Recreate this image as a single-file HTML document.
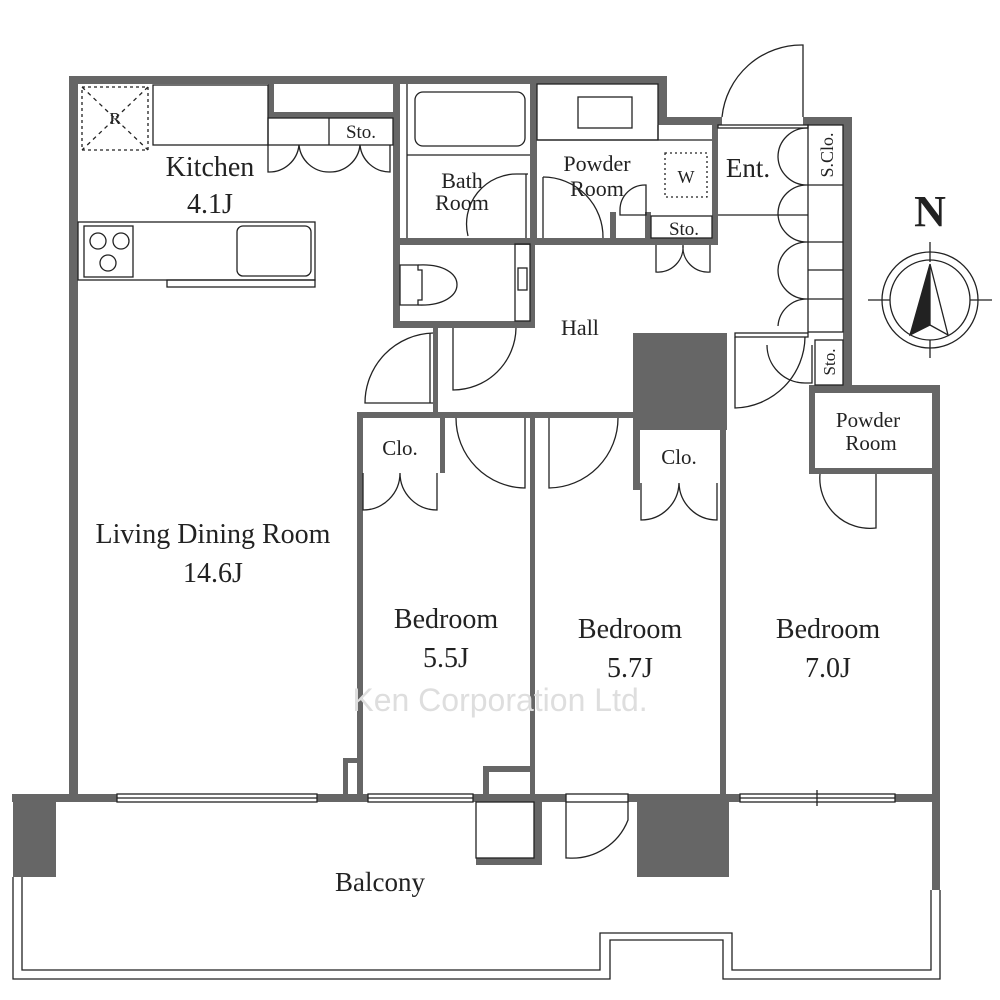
<!DOCTYPE html>
<html><head><meta charset="utf-8"><style>
html,body{margin:0;padding:0;background:#fff;}
svg{display:block;}
text{font-family:"Liberation Serif",serif;fill:#222;}
</style></head><body>
<svg width="1000" height="1000" viewBox="0 0 1000 1000" xmlns="http://www.w3.org/2000/svg">
<g fill="#666" stroke="none">
<rect x="69" y="76" width="598" height="8"/>
<rect x="69" y="76" width="9" height="724"/>
<rect x="658" y="76" width="9" height="49"/>
<rect x="658" y="117" width="64" height="8"/>
<rect x="803" y="117" width="49" height="8"/>
<rect x="843" y="117" width="9" height="276"/>
<rect x="809" y="385" width="131" height="8"/>
<rect x="932" y="385" width="8" height="505"/>
<rect x="268" y="84" width="6" height="34"/>
<rect x="268" y="112" width="125" height="6"/>
<rect x="393" y="84" width="7" height="244"/>
<rect x="393" y="238" width="325" height="7"/>
<rect x="530" y="84" width="7" height="161"/>
<rect x="712" y="125" width="6" height="120"/>
<rect x="393" y="321" width="142" height="7"/>
<rect x="530" y="240" width="5" height="88"/>
<rect x="610" y="212" width="6" height="33"/>
<rect x="645" y="212" width="6" height="33"/>
<rect x="433" y="328" width="5" height="90"/>
<rect x="357" y="412" width="278" height="6"/>
<rect x="633" y="333" width="94" height="97"/>
<rect x="633" y="430" width="7" height="60"/>
<rect x="720" y="333" width="6" height="467"/>
<rect x="357" y="412" width="6" height="388"/>
<rect x="440" y="418" width="5" height="55"/>
<rect x="530" y="412" width="5" height="388"/>
<rect x="343" y="758" width="14" height="5"/>
<rect x="343" y="758" width="5" height="40"/>
<rect x="483" y="766" width="47" height="6"/>
<rect x="483" y="766" width="6" height="32"/>
<rect x="809" y="385" width="6" height="89"/>
<rect x="809" y="468" width="123" height="6"/>
<rect x="12" y="794" width="928" height="8"/>
<rect x="13" y="794" width="43" height="83"/>
<rect x="637" y="794" width="92" height="83"/>
<rect x="476" y="858" width="66" height="7"/>
<rect x="534" y="802" width="8" height="63"/>
</g>
<g fill="none" stroke="#222" stroke-width="1.3">
<rect x="117" y="794" width="200" height="8" fill="#fff"/>
<line x1="117" y1="798" x2="317" y2="798"/>
<rect x="368" y="794" width="105" height="8" fill="#fff"/>
<line x1="368" y1="798" x2="473" y2="798"/>
<rect x="740" y="794" width="155" height="8" fill="#fff"/>
<line x1="740" y1="798" x2="895" y2="798"/>
<line x1="817" y1="790" x2="817" y2="806"/>
<rect x="566" y="794" width="62" height="8" fill="#fff"/>
<path d="M628 802 L628 820 A60 60 0 0 1 568 858 L566 858 L566 802"/>
<rect x="476" y="802" width="58" height="56"/>
<path d="M13 877 V979 H610 V940 H723 V979 H940 V890"/>
<path d="M22 877 V970 H600 V933 H732 V970 H931 V890"/>
<rect x="82" y="87" width="66" height="63" stroke-dasharray="3,3"/>
<line x1="82" y1="87" x2="148" y2="150" stroke-dasharray="4,4"/>
<line x1="148" y1="87" x2="82" y2="150" stroke-dasharray="4,4"/>
<rect x="153" y="85" width="115" height="60"/>
<rect x="268" y="118" width="125" height="27"/>
<line x1="329" y1="118" x2="329" y2="145"/>
<path d="M268 145 V172 A30 30 0 0 0 299 145 A30 30 0 0 0 329 172 A30 30 0 0 0 360 145 A30 30 0 0 0 390 172 V145"/>
<rect x="78" y="222" width="237" height="58"/>
<rect x="84" y="226" width="49" height="51"/>
<circle cx="98" cy="241" r="8"/><circle cx="121" cy="241" r="8"/><circle cx="108" cy="263" r="8"/>
<rect x="237" y="226" width="74" height="50" rx="6"/>
<rect x="167" y="280" width="148" height="7"/>
<line x1="407" y1="84" x2="407" y2="238"/>
<line x1="407" y1="155" x2="530" y2="155"/>
<rect x="415" y="92" width="110" height="54" rx="8"/>
<path d="M528 174 H518 A50 50 0 0 0 468 236"/>
<line x1="526" y1="174" x2="526" y2="238"/>
<rect x="537" y="84" width="121" height="56"/>
<rect x="578" y="97" width="54" height="31"/>
<line x1="537" y1="140" x2="712" y2="140"/>
<line x1="658" y1="125" x2="658" y2="140"/>
<rect x="665" y="153" width="42" height="44" stroke-dasharray="2,3"/>
<path d="M543 177 A60 60 0 0 1 603 238"/>
<line x1="543" y1="177" x2="543" y2="238"/>
<path d="M646 185 A25 25 0 0 0 620 210 V215 H646 Z"/>
<rect x="651" y="216" width="61" height="22"/>
<path d="M656 245 V272 A25 25 0 0 0 683 245 A25 25 0 0 0 710 272 V245"/>
<path d="M400 265 h18 v5 h4 v30 h-4 v5 h-18 z"/>
<path d="M418 265 C470 262 470 307 418 305"/>
<rect x="515" y="244" width="15" height="77"/>
<rect x="518" y="268" width="9" height="22"/>
<path d="M433 333 A70 70 0 0 0 365 403 H433"/>
<line x1="430" y1="333" x2="430" y2="403"/>
<path d="M453 328 V390 A63 63 0 0 0 516 328"/>
<rect x="718" y="125" width="90" height="3"/>
<line x1="718" y1="215" x2="808" y2="215"/>
<path d="M722 117 A80 80 0 0 1 803 45 V117"/>
<rect x="808" y="125" width="35" height="207"/>
<line x1="808" y1="185" x2="843" y2="185"/><line x1="808" y1="242" x2="843" y2="242"/><line x1="808" y1="270" x2="843" y2="270"/><line x1="808" y1="299" x2="843" y2="299"/>
<path d="M808 128 A29 29 0 0 0 778 157 A29 29 0 0 0 808 185 A29 29 0 0 0 778 214 A29 29 0 0 0 808 242 A29 29 0 0 0 778 270 A29 29 0 0 0 808 299 A29 29 0 0 0 778 326"/>
<rect x="735" y="333" width="73" height="4"/>
<path d="M735 337 V408 A72 72 0 0 0 805 337"/>
<path d="M767 345 A38 38 0 0 0 805 383 H812 V345"/>
<rect x="815" y="340" width="28" height="45"/>
<path d="M456 418 A70 70 0 0 0 525 488 V418"/>
<path d="M549 418 V488 A70 70 0 0 0 618 418"/>
<path d="M363 473 V510 A37 37 0 0 0 400 473 A37 37 0 0 0 437 510 V473"/>
<path d="M641 483 V520 A38 38 0 0 0 679 483 A38 38 0 0 0 717 520 V483"/>
<path d="M820 474 A50 50 0 0 0 876 528 V474"/>
<circle cx="930" cy="300" r="48"/>
<circle cx="930" cy="300" r="40"/>
<line x1="930" y1="242" x2="930" y2="262"/><line x1="930" y1="340" x2="930" y2="358"/>
<line x1="868" y1="300" x2="890" y2="300"/><line x1="970" y1="300" x2="992" y2="300"/>
<path d="M930 264 L910 335 L930 325 Z" fill="#222"/>
<path d="M930 264 L948 335 L930 325"/>
</g>
<text x="115" y="124" font-size="17" text-anchor="middle">R</text>
<text x="361" y="138" font-size="19" text-anchor="middle">Sto.</text>
<text x="210" y="176" font-size="28" text-anchor="middle">Kitchen</text>
<text x="210" y="213" font-size="28" text-anchor="middle">4.1J</text>
<text x="462" y="188" font-size="22" text-anchor="middle">Bath</text>
<text x="462" y="210" font-size="22" text-anchor="middle">Room</text>
<text x="597" y="171" font-size="22" text-anchor="middle">Powder</text>
<text x="597" y="196" font-size="22" text-anchor="middle">Room</text>
<text x="686" y="183" font-size="18" text-anchor="middle">W</text>
<text x="748" y="177" font-size="27" text-anchor="middle">Ent.</text>
<text x="684" y="235" font-size="19" text-anchor="middle">Sto.</text>
<text transform="translate(833,155) rotate(-90)" font-size="18" text-anchor="middle">S.Clo.</text>
<text transform="translate(835,362) rotate(-90)" font-size="17" text-anchor="middle">Sto.</text>
<text x="580" y="335" font-size="22" text-anchor="middle">Hall</text>
<text x="213" y="543" font-size="28" text-anchor="middle">Living Dining Room</text>
<text x="213" y="582" font-size="28" text-anchor="middle">14.6J</text>
<text x="400" y="455" font-size="21" text-anchor="middle">Clo.</text>
<text x="679" y="464" font-size="21" text-anchor="middle">Clo.</text>
<text x="868" y="427" font-size="21" text-anchor="middle">Powder</text>
<text x="871" y="450" font-size="21" text-anchor="middle">Room</text>
<text x="446" y="628" font-size="28" text-anchor="middle">Bedroom</text>
<text x="446" y="667" font-size="28" text-anchor="middle">5.5J</text>
<text x="630" y="638" font-size="28" text-anchor="middle">Bedroom</text>
<text x="630" y="677" font-size="28" text-anchor="middle">5.7J</text>
<text x="828" y="638" font-size="28" text-anchor="middle">Bedroom</text>
<text x="828" y="677" font-size="28" text-anchor="middle">7.0J</text>
<text x="380" y="891" font-size="27" text-anchor="middle">Balcony</text>
<text x="930" y="226" font-size="44" font-weight="bold" text-anchor="middle">N</text>
<text x="500" y="711" font-size="32" text-anchor="middle" style="font-family:'Liberation Sans',sans-serif;fill:#dedede">Ken Corporation Ltd.</text>
</svg>
</body></html>
